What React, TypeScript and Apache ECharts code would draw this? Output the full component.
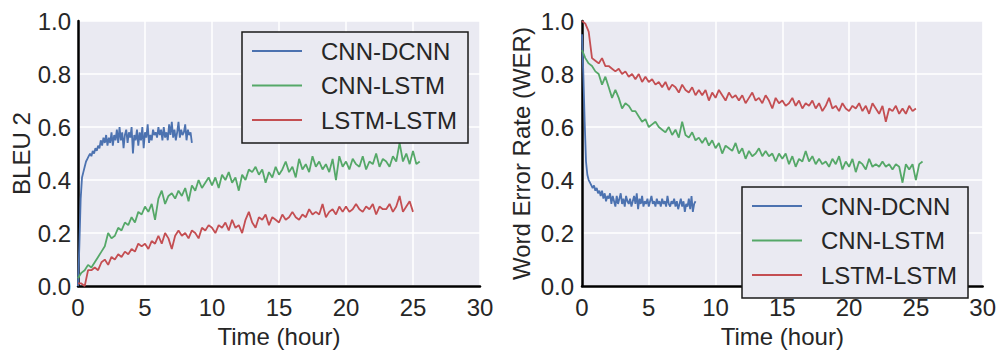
import React, { useEffect, useRef } from "react";
import * as echarts from "echarts";

const seriesNames = ["CNN-DCNN", "CNN-LSTM", "LSTM-LSTM"];
const colors = ["#4C72B0", "#55A868", "#C44E52"];
const xTicks = [0, 5, 10, 15, 20, 25, 30];
const yTicks = [0, 0.2, 0.4, 0.6, 0.8, 1.0];

// sampling steps (hours) of the logged curves
const dcnnStep = 0.1;
const lstmStep = 0.25;

// Left panel: BLEU 2
const bleuDcnn = [
  0.0, 0.15, 0.33, 0.41, 0.43, 0.45, 0.47, 0.48, 0.49, 0.5,
  0.49, 0.51, 0.5, 0.52, 0.51, 0.53, 0.52, 0.55, 0.53, 0.56,
  0.54, 0.57, 0.53, 0.56, 0.54, 0.58, 0.53, 0.57, 0.55, 0.59,
  0.54, 0.6, 0.55, 0.58, 0.52, 0.57, 0.59, 0.54, 0.58, 0.56,
  0.6, 0.5, 0.57, 0.55, 0.59, 0.53, 0.58, 0.55, 0.6, 0.52,
  0.58, 0.56, 0.61, 0.54, 0.57, 0.55, 0.59, 0.57, 0.58, 0.56,
  0.6, 0.57, 0.59, 0.55, 0.6, 0.56, 0.58, 0.55, 0.61, 0.57,
  0.62, 0.56, 0.59, 0.55, 0.58, 0.62, 0.56, 0.59, 0.57, 0.58,
  0.61, 0.55, 0.59, 0.57, 0.58, 0.54,
];
const bleuCnnLstm = [
  0.03, 0.05, 0.06, 0.08,
  0.07, 0.09, 0.11, 0.13,
  0.15, 0.2, 0.18, 0.19,
  0.22, 0.21, 0.24, 0.23,
  0.26, 0.24, 0.28, 0.27,
  0.3, 0.28, 0.31, 0.25,
  0.33, 0.36, 0.31, 0.34,
  0.35, 0.33, 0.36, 0.34,
  0.37, 0.32, 0.38, 0.36,
  0.4, 0.37, 0.39, 0.41,
  0.38, 0.41, 0.37, 0.42,
  0.4, 0.43, 0.39, 0.41,
  0.36, 0.42, 0.4, 0.44,
  0.43, 0.45, 0.42, 0.44,
  0.39, 0.43, 0.41, 0.45,
  0.42, 0.44, 0.47, 0.43,
  0.45, 0.41, 0.48, 0.44,
  0.46, 0.43, 0.49, 0.45,
  0.47, 0.44, 0.46, 0.43,
  0.48, 0.4, 0.49, 0.45,
  0.47, 0.44, 0.48, 0.46,
  0.45, 0.49, 0.44, 0.47,
  0.46, 0.5, 0.45, 0.48,
  0.47, 0.45, 0.49, 0.47,
  0.54, 0.47, 0.5, 0.46,
  0.51, 0.46, 0.47,
];
const bleuLstmLstm = [
  0.01, 0.01, 0.0, 0.06,
  0.06, 0.07, 0.06, 0.09,
  0.1, 0.08, 0.11, 0.1,
  0.12, 0.11, 0.13, 0.12,
  0.14, 0.13, 0.16, 0.15,
  0.16, 0.14, 0.17, 0.16,
  0.19, 0.16, 0.2, 0.18,
  0.14, 0.19, 0.21, 0.19,
  0.2, 0.18, 0.21, 0.2,
  0.18, 0.22, 0.21, 0.23,
  0.22, 0.2, 0.23, 0.22,
  0.24, 0.21, 0.25, 0.22,
  0.23, 0.2, 0.25, 0.28,
  0.24, 0.22, 0.26, 0.25,
  0.27, 0.23, 0.26, 0.25,
  0.24, 0.27, 0.25, 0.26,
  0.28, 0.26, 0.25, 0.27,
  0.26, 0.29, 0.27, 0.28,
  0.27, 0.31, 0.26, 0.28,
  0.29, 0.27, 0.3, 0.28,
  0.3, 0.28, 0.29, 0.31,
  0.29, 0.28, 0.3, 0.29,
  0.31, 0.27, 0.3, 0.29,
  0.29, 0.31, 0.28, 0.3,
  0.34, 0.28, 0.3, 0.32,
  0.28,
];

// Right panel: Word Error Rate
const werDcnn = [
  0.95, 0.8, 0.62, 0.47, 0.42, 0.4, 0.39, 0.38, 0.37, 0.38,
  0.36, 0.37, 0.35, 0.36, 0.34, 0.36, 0.33, 0.35, 0.32, 0.34,
  0.33, 0.35, 0.31, 0.34, 0.32, 0.3, 0.34, 0.31, 0.33, 0.35,
  0.31, 0.33, 0.3, 0.34, 0.32, 0.31, 0.33, 0.3, 0.32, 0.34,
  0.31, 0.35, 0.29, 0.33, 0.31, 0.34, 0.3, 0.32, 0.31, 0.33,
  0.3, 0.32, 0.34, 0.31, 0.32, 0.3, 0.33, 0.31, 0.32, 0.3,
  0.33, 0.31, 0.32, 0.3, 0.34, 0.31, 0.3, 0.32, 0.31, 0.33,
  0.3, 0.32, 0.29, 0.31, 0.33, 0.3, 0.32, 0.28, 0.31, 0.3,
  0.33, 0.29, 0.34, 0.28, 0.31, 0.32,
];
const werCnnLstm = [
  0.89, 0.86, 0.84, 0.83,
  0.81, 0.8, 0.76, 0.79,
  0.75, 0.71, 0.74, 0.71,
  0.67, 0.69, 0.68, 0.66,
  0.66, 0.64, 0.62, 0.63,
  0.6, 0.61, 0.62, 0.6,
  0.59, 0.58, 0.6, 0.57,
  0.59, 0.56, 0.62, 0.57,
  0.56, 0.58, 0.55, 0.56,
  0.54, 0.56, 0.53, 0.55,
  0.52, 0.54, 0.5, 0.53,
  0.52, 0.51, 0.54, 0.5,
  0.52, 0.48, 0.51, 0.49,
  0.5, 0.52, 0.49, 0.51,
  0.49, 0.5, 0.47, 0.5,
  0.48, 0.5, 0.46, 0.49,
  0.45, 0.48, 0.47, 0.51,
  0.47, 0.49, 0.46, 0.48,
  0.46, 0.47, 0.45, 0.48,
  0.46, 0.49, 0.44, 0.47,
  0.45, 0.48, 0.43, 0.47,
  0.46, 0.44, 0.48, 0.45,
  0.46, 0.45, 0.47, 0.45,
  0.46, 0.44, 0.46, 0.45,
  0.39, 0.46, 0.44, 0.46,
  0.4, 0.46, 0.47,
];
const werLstmLstm = [
  1.0, 0.99, 0.96, 0.86,
  0.85, 0.84, 0.86, 0.83,
  0.83, 0.82, 0.81, 0.82,
  0.8, 0.81, 0.79, 0.8,
  0.78, 0.8, 0.77, 0.79,
  0.77, 0.78, 0.76, 0.77,
  0.75, 0.77, 0.74, 0.76,
  0.75, 0.73, 0.76, 0.74,
  0.73, 0.75, 0.72, 0.74,
  0.72, 0.74, 0.7, 0.73,
  0.71, 0.74, 0.72, 0.7,
  0.73, 0.71, 0.72, 0.7,
  0.72, 0.69, 0.71, 0.73,
  0.7, 0.71, 0.69, 0.72,
  0.7, 0.67, 0.71, 0.69,
  0.7, 0.68, 0.69, 0.71,
  0.68, 0.7, 0.67, 0.69,
  0.68, 0.7, 0.67, 0.69,
  0.66, 0.68, 0.71, 0.67,
  0.68, 0.66, 0.69, 0.67,
  0.66, 0.68, 0.67, 0.69,
  0.66, 0.68, 0.65, 0.69,
  0.67, 0.65, 0.68, 0.62,
  0.67, 0.66, 0.68, 0.65,
  0.67, 0.65, 0.68, 0.66,
  0.67,
];

const FONT = "'Liberation Sans', Arial, sans-serif";
const TEXT = "#262626";

function toPairs(values: number[], step: number) {
  return values.map((v, i) => [Math.round(i * step * 100) / 100, v]);
}

function makeLegend(left: number, top: number) {
  return {
    left,
    top,
    orient: "vertical",
    data: seriesNames,
    icon: "rect",
    itemWidth: 50,
    itemHeight: 2,
    itemGap: 10.5,
    padding: [7, 11, 11, 10],
    borderColor: "#1a1a1a",
    borderWidth: 1.5,
    borderRadius: 0,
    backgroundColor: "#EAEAF2",
    selectedMode: false,
    z: 10,
    textStyle: {
      fontSize: 24,
      fontFamily: FONT,
      color: TEXT,
      padding: [0, 0, 0, 14],
      lineHeight: 24,
    },
  };
}

export default function App() {
  const ref = useRef<HTMLDivElement>(null);

  useEffect(() => {
    if (!ref.current) return;
    const chart = echarts.init(ref.current, undefined, { renderer: "svg" });

    const xAxisBase = (gridIndex: number) => ({
      type: "value",
      gridIndex,
      min: xTicks[0],
      max: xTicks[xTicks.length - 1],
      interval: 5,
      name: "Time (hour)",
      nameLocation: "middle",
      nameGap: 35,
      nameTextStyle: { fontSize: 24, fontFamily: FONT, color: TEXT },
      axisLine: { show: true, onZero: false, lineStyle: { color: "#000", width: 2.5 } },
      axisTick: { show: false },
      axisLabel: { fontSize: 24, fontFamily: FONT, color: TEXT, margin: 9 },
      splitLine: { show: true, lineStyle: { color: "#fff", width: 1.5 } },
    });
    const yAxisBase = (gridIndex: number, name: string, gap: number, margin: number) => ({
      type: "value",
      gridIndex,
      min: yTicks[0],
      max: yTicks[yTicks.length - 1],
      interval: 0.2,
      name,
      nameLocation: "middle",
      nameRotate: 90,
      nameGap: gap,
      nameTextStyle: { fontSize: 24, fontFamily: FONT, color: TEXT },
      axisLine: { show: true, onZero: false, lineStyle: { color: "#000", width: 2.5 } },
      axisTick: { show: false },
      axisLabel: {
        fontSize: 24,
        fontFamily: FONT,
        color: TEXT,
        margin,
        formatter: (v: number) => v.toFixed(1),
      },
      splitLine: { show: true, lineStyle: { color: "#fff", width: 1.5 } },
    });

    const line = (name: string, idx: number, data: number[][], axis: number) => ({
      type: "line",
      name,
      xAxisIndex: axis,
      yAxisIndex: axis,
      data,
      showSymbol: false,
      symbol: "none",
      lineStyle: { color: colors[idx], width: 1.8 },
      itemStyle: { color: colors[idx] },
      z: 2,
    });

    chart.setOption({
      animation: false,
      textStyle: { fontFamily: FONT },
      grid: [
        { left: 78, top: 21, width: 402, height: 275, show: true, backgroundColor: "#EAEAF2", borderWidth: 0 },
        { left: 582, top: 21, width: 401, height: 275, show: true, backgroundColor: "#EAEAF2", borderWidth: 0 },
      ],
      xAxis: [xAxisBase(0), xAxisBase(1)],
      yAxis: [yAxisBase(0, "BLEU 2", 43, 7), yAxisBase(1, "Word Error Rate (WER)", 49, 8)],
      legend: [makeLegend(242, 32), makeLegend(742, 187)],
      series: [
        line(seriesNames[0], 0, toPairs(bleuDcnn, dcnnStep), 0),
        line(seriesNames[1], 1, toPairs(bleuCnnLstm, lstmStep), 0),
        line(seriesNames[2], 2, toPairs(bleuLstmLstm, lstmStep), 0),
        line(seriesNames[0], 0, toPairs(werDcnn, dcnnStep), 1),
        line(seriesNames[1], 1, toPairs(werCnnLstm, lstmStep), 1),
        line(seriesNames[2], 2, toPairs(werLstmLstm, lstmStep), 1),
      ],
    });

    return () => chart.dispose();
  }, []);

  return (
    <div
      ref={ref}
      style={{ position: "fixed", left: 0, top: 0, width: 999, height: 353, background: "#fff" }}
    />
  );
}
